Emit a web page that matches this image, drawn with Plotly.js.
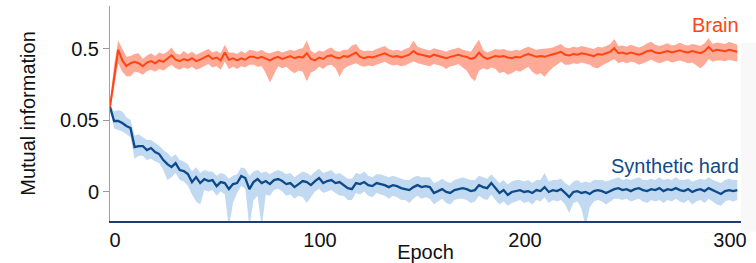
<!DOCTYPE html>
<html>
<head>
<meta charset="utf-8">
<script src="https://cdn.plot.ly/plotly-3.0.1.min.js"></script>
<style>html,body{margin:0;padding:0;background:#fff;}#chart{width:756px;height:263px;}</style>
</head>
<body>
<div id="chart"></div>
<script>
// Epoch step between samples
const epochStep = 2;

// Brain mutual information (mean, lower and upper band)
const brainMean = [0.419,0.462,0.499,0.484,0.476,0.480,0.482,0.480,0.476,0.481,
 0.483,0.480,0.484,0.482,0.486,0.491,0.485,0.483,0.486,0.484,
 0.487,0.483,0.485,0.488,0.491,0.486,0.488,0.484,0.495,0.485,
 0.487,0.484,0.487,0.485,0.489,0.489,0.487,0.489,0.486,0.484,
 0.487,0.489,0.486,0.488,0.490,0.487,0.489,0.488,0.494,0.486,
 0.484,0.488,0.486,0.490,0.491,0.488,0.487,0.490,0.489,0.492,
 0.495,0.489,0.487,0.489,0.488,0.490,0.492,0.494,0.491,0.489,
 0.490,0.488,0.490,0.492,0.497,0.493,0.492,0.491,0.489,0.492,
 0.490,0.489,0.487,0.489,0.490,0.492,0.490,0.489,0.486,0.488,
 0.495,0.489,0.486,0.488,0.490,0.489,0.490,0.488,0.487,0.489,
 0.488,0.491,0.493,0.491,0.489,0.490,0.489,0.491,0.492,0.494,
 0.496,0.492,0.491,0.493,0.492,0.494,0.493,0.492,0.490,0.493,
 0.492,0.494,0.496,0.501,0.494,0.495,0.493,0.495,0.494,0.492,
 0.494,0.497,0.498,0.495,0.494,0.496,0.497,0.495,0.496,0.498,
 0.496,0.495,0.497,0.496,0.494,0.497,0.503,0.497,0.499,0.498,
 0.497,0.499,0.498,0.496];
const brainHi = [0.425,0.478,0.512,0.500,0.489,0.490,0.493,0.494,0.486,0.491,
 0.494,0.490,0.495,0.493,0.496,0.502,0.494,0.492,0.497,0.493,
 0.496,0.492,0.495,0.498,0.500,0.495,0.497,0.494,0.506,0.495,
 0.495,0.493,0.497,0.494,0.499,0.498,0.496,0.499,0.495,0.494,
 0.496,0.498,0.495,0.497,0.499,0.497,0.500,0.501,0.512,0.497,
 0.494,0.498,0.496,0.500,0.502,0.497,0.496,0.499,0.499,0.505,
 0.507,0.499,0.497,0.498,0.497,0.500,0.502,0.504,0.500,0.498,
 0.499,0.497,0.500,0.502,0.512,0.503,0.501,0.500,0.498,0.501,
 0.500,0.498,0.496,0.499,0.500,0.502,0.499,0.498,0.496,0.505,
 0.513,0.499,0.495,0.497,0.500,0.499,0.500,0.498,0.497,0.499,
 0.498,0.501,0.503,0.501,0.499,0.500,0.500,0.501,0.502,0.504,
 0.507,0.502,0.501,0.503,0.502,0.504,0.503,0.502,0.500,0.503,
 0.502,0.504,0.507,0.514,0.504,0.505,0.503,0.506,0.504,0.502,
 0.504,0.508,0.510,0.506,0.504,0.506,0.508,0.505,0.506,0.509,
 0.506,0.505,0.507,0.506,0.504,0.508,0.515,0.507,0.509,0.508,
 0.507,0.510,0.508,0.506];
const brainLo = [0.413,0.445,0.480,0.468,0.462,0.462,0.468,0.467,0.464,0.469,
 0.471,0.468,0.472,0.470,0.474,0.478,0.473,0.471,0.474,0.472,
 0.475,0.471,0.473,0.476,0.479,0.474,0.476,0.471,0.482,0.472,
 0.475,0.472,0.476,0.474,0.478,0.478,0.475,0.476,0.466,0.453,
 0.465,0.476,0.473,0.475,0.470,0.466,0.470,0.468,0.455,0.467,
 0.470,0.475,0.472,0.477,0.478,0.473,0.461,0.472,0.476,0.478,
 0.480,0.477,0.475,0.477,0.476,0.478,0.480,0.482,0.479,0.477,
 0.478,0.476,0.477,0.480,0.483,0.480,0.479,0.478,0.476,0.479,
 0.477,0.476,0.472,0.476,0.477,0.479,0.474,0.470,0.460,0.455,
 0.470,0.473,0.471,0.474,0.472,0.466,0.468,0.464,0.466,0.470,
 0.468,0.472,0.475,0.468,0.464,0.466,0.461,0.468,0.474,0.478,
 0.482,0.478,0.478,0.480,0.479,0.481,0.480,0.478,0.474,0.473,
 0.477,0.480,0.482,0.486,0.480,0.482,0.480,0.482,0.481,0.478,
 0.480,0.483,0.485,0.482,0.480,0.482,0.484,0.481,0.482,0.484,
 0.482,0.480,0.481,0.477,0.473,0.478,0.486,0.482,0.484,0.484,
 0.483,0.485,0.484,0.482];

// Synthetic hard mutual information (mean, lower and upper band)
const synthMean = [0.0591,0.0493,0.0493,0.0479,0.0458,0.0444,0.0311,0.0318,0.0318,0.0290,
 0.0304,0.0276,0.0262,0.0220,0.0192,0.0171,0.0199,0.0150,0.0143,0.0122,
 0.0066,0.0101,0.0059,0.0087,0.0073,0.0080,0.0038,0.0066,0.0059,0.0017,
 0.0052,0.0059,0.0108,0.0094,0.0017,0.0066,0.0087,0.0059,0.0073,0.0052,
 0.0080,0.0087,0.0073,0.0052,0.0059,0.0031,0.0052,0.0073,0.0066,0.0045,
 0.0073,0.0094,0.0059,0.0073,0.0080,0.0059,0.0066,0.0045,0.0024,0.0017,
 0.0059,0.0052,0.0066,0.0045,0.0038,0.0059,0.0052,0.0045,0.0031,0.0045,
 0.0038,0.0024,0.0017,0.0010,0.0031,0.0045,0.0031,0.0038,0.0031,-0.0010,
 0.0003,0.0017,-0.0003,-0.0010,0.0010,0.0017,0.0024,0.0017,0.0003,0.0010,
 0.0045,0.0031,0.0024,0.0059,0.0024,-0.0010,0.0010,-0.0024,-0.0003,0.0003,
 0.0010,-0.0003,0.0003,-0.0010,0.0010,0.0003,0.0031,-0.0003,0.0010,0.0003,
 0.0017,-0.0010,-0.0038,-0.0003,0.0003,-0.0010,-0.0003,-0.0017,0.0003,0.0010,
 0.0003,-0.0010,0.0003,0.0017,0.0024,0.0010,0.0017,0.0003,0.0017,0.0024,
 0.0010,0.0003,0.0017,0.0010,0.0024,0.0003,0.0017,0.0010,0.0024,0.0010,
 0.0003,0.0017,-0.0003,0.0010,0.0017,0.0003,0.0024,0.0010,-0.0003,-0.0017,
 0.0003,0.0010,0.0003,0.0010];
const synthHi = [0.0610,0.0560,0.0570,0.0560,0.0520,0.0500,0.0390,0.0400,0.0380,0.0360,
 0.0360,0.0340,0.0320,0.0290,0.0270,0.0240,0.0260,0.0220,0.0210,0.0190,
 0.0140,0.0170,0.0130,0.0150,0.0140,0.0140,0.0110,0.0130,0.0120,0.0090,
 0.0110,0.0120,0.0170,0.0160,0.0110,0.0140,0.0150,0.0130,0.0140,0.0120,
 0.0140,0.0150,0.0140,0.0120,0.0130,0.0100,0.0120,0.0140,0.0130,0.0110,
 0.0140,0.0160,0.0130,0.0140,0.0150,0.0120,0.0130,0.0110,0.0090,0.0090,
 0.0130,0.0120,0.0140,0.0110,0.0100,0.0120,0.0120,0.0110,0.0100,0.0110,
 0.0100,0.0090,0.0080,0.0080,0.0100,0.0110,0.0100,0.0100,0.0100,0.0060,
 0.0070,0.0090,0.0070,0.0060,0.0080,0.0090,0.0100,0.0090,0.0080,0.0080,
 0.0110,0.0100,0.0090,0.0120,0.0090,0.0060,0.0080,0.0050,0.0070,0.0080,
 0.0080,0.0070,0.0080,0.0060,0.0080,0.0080,0.0130,0.0070,0.0080,0.0080,
 0.0090,0.0060,0.0040,0.0070,0.0080,0.0060,0.0070,0.0060,0.0080,0.0080,
 0.0080,0.0070,0.0080,0.0090,0.0100,0.0080,0.0090,0.0080,0.0090,0.0100,
 0.0080,0.0080,0.0090,0.0080,0.0100,0.0080,0.0090,0.0080,0.0100,0.0080,
 0.0080,0.0090,0.0070,0.0080,0.0090,0.0080,0.0100,0.0080,0.0070,0.0060,
 0.0080,0.0090,0.0080,0.0080];
const synthLo = [0.0570,0.0440,0.0430,0.0420,0.0400,0.0380,0.0230,0.0250,0.0250,0.0220,
 0.0230,0.0210,0.0200,0.0150,0.0080,0.0100,0.0130,0.0080,0.0070,0.0040,
 -0.0020,-0.0070,-0.0090,0.0010,0.0000,0.0010,-0.0030,0.0000,-0.0020,-0.0250,
 -0.0080,-0.0010,0.0040,0.0020,-0.0250,-0.0060,-0.0030,-0.0250,-0.0020,-0.0030,
 0.0010,0.0020,0.0000,-0.0030,-0.0020,-0.0050,-0.0030,-0.0040,-0.0080,-0.0040,
 0.0000,0.0020,-0.0010,0.0000,0.0010,-0.0010,-0.0030,-0.0030,-0.0060,-0.0060,
 -0.0010,-0.0020,0.0000,-0.0030,-0.0040,-0.0010,-0.0020,-0.0030,-0.0050,-0.0030,
 -0.0040,-0.0060,-0.0060,-0.0080,-0.0050,-0.0030,-0.0050,-0.0040,-0.0050,-0.0090,
 -0.0070,-0.0050,-0.0080,-0.0090,-0.0060,-0.0050,-0.0050,-0.0060,-0.0080,-0.0070,
 -0.0030,-0.0050,-0.0060,-0.0020,-0.0060,-0.0090,-0.0070,-0.0100,-0.0080,-0.0070,
 -0.0060,-0.0080,-0.0070,-0.0090,-0.0060,-0.0070,-0.0040,-0.0080,-0.0060,-0.0070,
 -0.0060,-0.0090,-0.0150,-0.0080,-0.0070,-0.0120,-0.0250,-0.0110,-0.0070,-0.0060,
 -0.0070,-0.0090,-0.0070,-0.0050,-0.0050,-0.0060,-0.0050,-0.0070,-0.0060,-0.0050,
 -0.0070,-0.0080,-0.0060,-0.0070,-0.0060,-0.0080,-0.0060,-0.0070,-0.0050,-0.0070,
 -0.0080,-0.0060,-0.0090,-0.0070,-0.0060,-0.0080,-0.0050,-0.0070,-0.0090,-0.0100,
 -0.0070,-0.0060,-0.0070,-0.0060];

// Axis ticks
const xTickVals = [0, 100, 200, 300];
const synthTickVals = [0, 0.05];
const synthTickText = ['0', '0.05'];
const brainTickVals = [0.5];
const brainTickText = ['0.5'];
const seriesNames = ['Brain', 'Synthetic hard'];

const epochs = brainMean.map((_, i) => i * epochStep);

const brainColor = '#ff4513';
const brainFill = 'rgba(255,85,45,0.5)';
const synthColor = '#0d4a8a';
const synthFill = 'rgba(110,165,225,0.42)';
const font = {family: 'Liberation Sans, Arial, sans-serif', size: 20, color: '#111'};

const traces = [
  {x: epochs, y: synthLo, yaxis: 'y', mode: 'lines', line: {width: 0, color: synthFill}, hoverinfo: 'skip', showlegend: false},
  {x: epochs, y: synthHi, yaxis: 'y', mode: 'lines', line: {width: 0, color: synthFill}, fill: 'tonexty', fillcolor: synthFill, hoverinfo: 'skip', showlegend: false},
  {x: epochs, y: synthMean, yaxis: 'y', mode: 'lines', name: seriesNames[1], line: {width: 2.3, color: synthColor}, showlegend: false},
  {x: epochs, y: brainLo, yaxis: 'y2', mode: 'lines', line: {width: 0, color: brainFill}, hoverinfo: 'skip', showlegend: false},
  {x: epochs, y: brainHi, yaxis: 'y2', mode: 'lines', line: {width: 0, color: brainFill}, fill: 'tonexty', fillcolor: brainFill, hoverinfo: 'skip', showlegend: false},
  {x: epochs, y: brainMean, yaxis: 'y2', mode: 'lines', name: seriesNames[0], line: {width: 2, color: brainColor}, showlegend: false}
];

const layout = {
  width: 756, height: 263,
  margin: {l: 110, r: 15, t: 6, b: 42},
  paper_bgcolor: '#fff', plot_bgcolor: '#fff',
  font: font,
  showlegend: false,
  xaxis: {
    range: [0, 307.8], tickvals: xTickVals, ticktext: xTickVals.map(String),
    ticks: '', showgrid: false, zeroline: false,
    showline: true, linecolor: '#1f3c73', linewidth: 2,
    ticklabelshift: 5, tickfont: font,
    title: {text: 'Epoch', font: font, standoff: 0}
  },
  yaxis: {
    range: [-0.0206, 0.1297], tickvals: synthTickVals, ticktext: synthTickText,
    ticks: 'outside', ticklen: 6, tickcolor: '#999', tickwidth: 1,
    showgrid: false, zeroline: false,
    showline: true, linecolor: '#a0a0a8', linewidth: 1,
    tickfont: font,
    title: {text: 'Mutual information', font: font, standoff: 19}
  },
  yaxis2: {
    overlaying: 'y', side: 'left', anchor: 'x',
    range: [0.2594, 0.5601], tickvals: brainTickVals, ticktext: brainTickText,
    ticks: 'outside', ticklen: 6, tickcolor: '#999', tickwidth: 1,
    showgrid: false, zeroline: false, showline: false,
    tickfont: font
  },
  shapes: [
    {type: 'rect', xref: 'paper', yref: 'paper', x0: 1.0, x1: 1.03, y0: -0.05, y1: 0.83,
     fillcolor: '#f8f8f8', line: {width: 0}, layer: 'below'}
  ],
  annotations: [
    {xref: 'paper', yref: 'paper', x: 1.0, y: 0.912, xanchor: 'right', yanchor: 'middle',
     text: seriesNames[0], showarrow: false, font: {family: font.family, size: 20, color: brainColor}},
    {xref: 'paper', yref: 'paper', x: 1.0, y: 0.256, xanchor: 'right', yanchor: 'middle',
     text: seriesNames[1], showarrow: false, font: {family: font.family, size: 20, color: synthColor}}
  ]
};

Plotly.newPlot('chart', traces, layout, {displayModeBar: false, staticPlot: true});
</script>
</body>
</html>
